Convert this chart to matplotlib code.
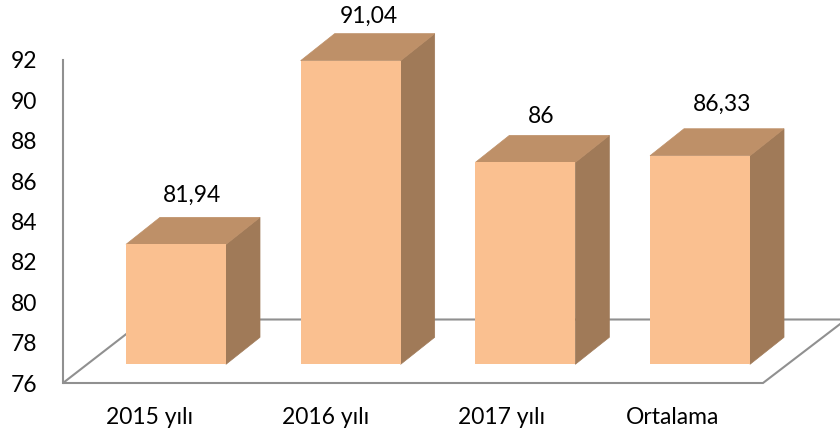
import matplotlib
matplotlib.use("Agg")
import matplotlib.pyplot as plt
from matplotlib.patches import Polygon

plt.rcParams['font.family'] = ['Lato', 'DejaVu Sans']

categories = ["2015 yılı", "2016 yılı", "2017 yılı", "Ortalama"]
values = [81.94, 91.04, 86, 86.33]
value_labels = ["81,94", "91,04", "86", "86,33"]
y_ticks = [76, 78, 80, 82, 84, 86, 88, 90, 92]

# Label nudges, in pixels, from each bar's centre and back-top edge
value_label_dx = [16, 18, 16, 22]
value_label_dy = [22, 17, 19, 24]
category_label_dx = [-26, -25, -24, -27]

W, H = 840, 429
FONT_SIZE = 16.5
fig = plt.figure(figsize=(W / 100, H / 100), dpi=100)

# Bars share a full-figure axes, value scale of the front plane
ax = fig.add_axes([0, 0, 1, 1])
px_unit = 20.19
spacing = 174.67
ax.set_xlim(-176 / spacing, (W - 176) / spacing)
ax.set_ylim(76 - (H - 364.3) / px_unit, 76 + 364.3 / px_unit)
ax.axis("off")

dx = 34 / spacing
dy = 27 / px_unit
half = 50 / spacing
FRONT, TOP, SIDE = "#FAC090", "#BE9068", "#A07A58"
LINE = "#909090"


def px(x, y):
    return ((x - 176) / spacing, 76 + (364.3 - y) / px_unit)


# Floor
ax.add_patch(Polygon([px(63, 383), px(763, 383), px(846, 319.5), px(145, 319.5)],
                     closed=True, facecolor="white", edgecolor=LINE, lw=1.5, zorder=1))

for i, v in enumerate(values):
    l, r = i - half, i + half
    ax.add_patch(Polygon([(r, 76), (r + dx, 76 + dy), (r + dx, v + dy), (r, v)],
                         closed=True, facecolor=SIDE, edgecolor=SIDE, lw=0.5, zorder=2))
    ax.add_patch(Polygon([(l, v), (r, v), (r + dx, v + dy), (l + dx, v + dy)],
                         closed=True, facecolor=TOP, edgecolor=TOP, lw=0.5, zorder=2))
    ax.add_patch(Polygon([(l, 76), (r, 76), (r, v), (l, v)],
                         closed=True, facecolor=FRONT, edgecolor="none", zorder=3))
    ax.text(i + value_label_dx[i] / spacing, v + dy + value_label_dy[i] / px_unit,
            value_labels[i], ha="center", va="center",
            fontsize=FONT_SIZE, color="black", zorder=5, clip_on=False)
    ax.text(i + category_label_dx[i] / spacing, px(0, 418)[1], categories[i],
            ha="center", va="center", fontsize=FONT_SIZE, color="black", zorder=5)

# Value axis on the back wall
wall = fig.add_axes([63 / W, 1 - 383 / H, 1 / W, (383 - 60) / H])
wall.set_ylim(76, 92)
wall.set_xticks([])
wall.set_yticks(y_ticks)
wall.tick_params(axis="y", length=0, pad=18.5, labelsize=FONT_SIZE, labelcolor="black")
wall.patch.set_alpha(0)
for s in ("top", "right", "bottom"):
    wall.spines[s].set_visible(False)
wall.spines["left"].set_color(LINE)
wall.spines["left"].set_linewidth(1.5)

fig.savefig("out.png", dpi=100)
